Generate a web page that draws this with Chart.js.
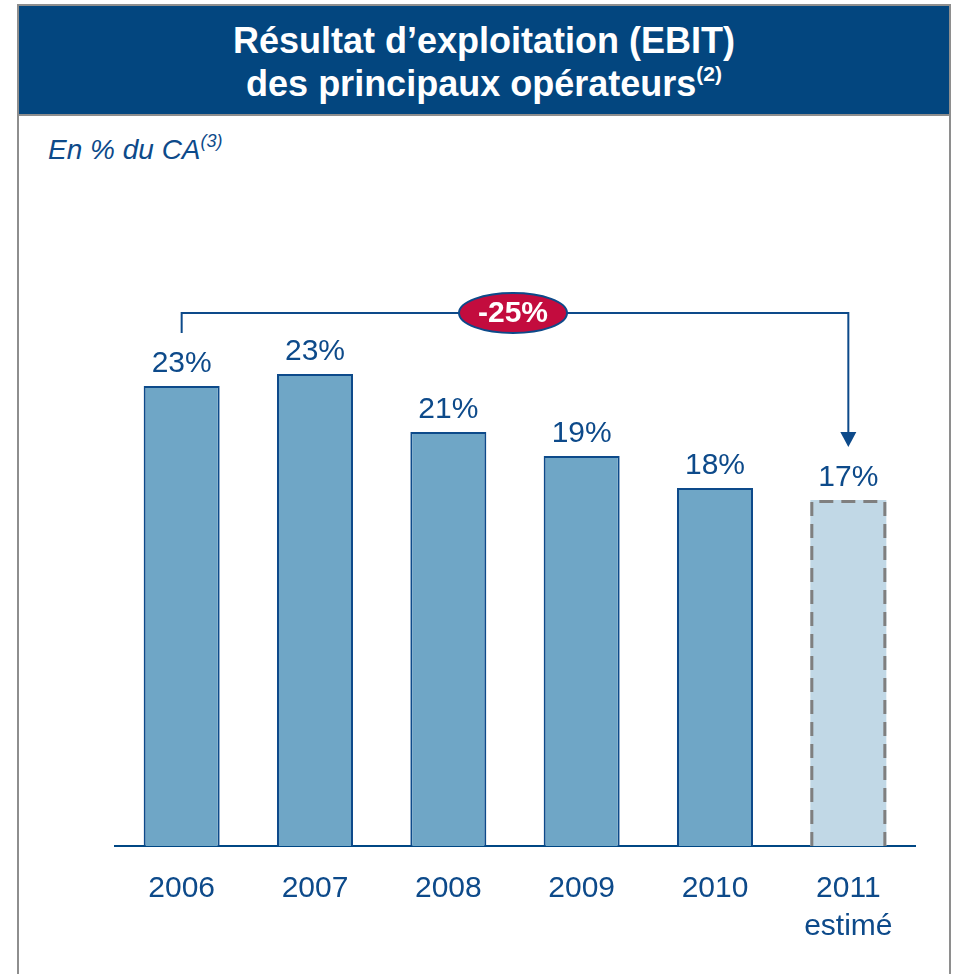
<!DOCTYPE html>
<html lang="fr">
<head>
<meta charset="utf-8">
<script src="https://cdn.jsdelivr.net/npm/chart.js@4/dist/chart.umd.min.js"></script>
<style>
  html, body { margin: 0; padding: 0; background: #fff; }
  body { width: 953px; height: 974px; position: relative; overflow: hidden; font-family: "Liberation Sans", Arial, sans-serif; }
  #frame { position: absolute; left: 17px; top: 4px; width: 930px; height: 990px; border: 2px solid #8e8e8e; }
  #header {
    position: absolute; left: 19px; top: 6px; width: 930px; height: 110px;
    background: #03467f; border-bottom: 2px solid #8e8e8e;
    color: #fff; font-weight: bold; font-size: 36px; line-height: 43px; text-align: center;
    display: flex; flex-direction: column; justify-content: center; padding-top: 3px; box-sizing: border-box;
  }
  #header sup { font-size: 21px; line-height: 0; vertical-align: 15px; }
  #subtitle { position: absolute; left: 48px; top: 134px; color: #0d4a8a; font-style: italic; font-size: 28px; }
  #subtitle sup { font-size: 18px; line-height: 0; vertical-align: 12px; }
  #chart { position: absolute; left: 0; top: 0; }
</style>
</head>
<body>
<div id="frame"></div>
<div id="header">
  <div>Résultat d’exploitation (EBIT)</div>
  <div>des principaux opérateurs<sup>(2)</sup></div>
</div>
<div id="subtitle">En % du CA<sup>(3)</sup></div>
<canvas id="chart" width="953" height="974"></canvas>
<script>
// data
const years = [["2006"], ["2007"], ["2008"], ["2009"], ["2010"], ["2011", "estimé"]];
const ebitMargin = [23.0, 23.6, 20.7, 19.5, 17.9, 17.3];
const valueLabels = ["23%", "23%", "21%", "19%", "18%", "17%"];
const changeLabel = "-25%";
const estimatedIndex = 5;

const navy = "#0d4a8a";
const barFill = "#6fa6c6";
const estFill = "#c1d8e6";

// value labels above bars + dashed outline for the estimate
const labelsPlugin = {
  id: "valueLabels",
  afterDatasetsDraw(chart) {
    const ctx = chart.ctx;
    const meta = chart.getDatasetMeta(0);
    ctx.save();
    ctx.font = '30px "Liberation Sans", Arial, sans-serif';
    ctx.fillStyle = navy;
    ctx.textAlign = "center";
    ctx.textBaseline = "alphabetic";
    meta.data.forEach((bar, i) => {
      ctx.fillText(valueLabels[i], bar.x, bar.y - 14);
    });

    // dashed border on estimated bar
    const est = meta.data[estimatedIndex];
    const half = est.width / 2;
    ctx.strokeStyle = "#7f7f7f";
    ctx.lineWidth = 3;
    ctx.setLineDash([14, 8]);
    ctx.beginPath();
    ctx.moveTo(est.x - half + 1.5, est.base);
    ctx.lineTo(est.x - half + 1.5, est.y + 1.5);
    ctx.lineTo(est.x + half - 1.5, est.y + 1.5);
    ctx.lineTo(est.x + half - 1.5, est.base);
    ctx.stroke();
    ctx.restore();
  }
};

// bracket with arrow and -25% badge
const bracketPlugin = {
  id: "bracket",
  afterDraw(chart) {
    const ctx = chart.ctx;
    const x = chart.scales.x, y = chart.scales.y;
    const x0 = x.getPixelForValue(0);
    const x1 = x.getPixelForValue(estimatedIndex);
    const yTop = y.getPixelForValue(26.65);
    const yLeft = y.getPixelForValue(25.65);
    const yTip = y.getPixelForValue(19.95);
    ctx.save();
    ctx.strokeStyle = navy;
    ctx.fillStyle = navy;
    ctx.lineWidth = 2;
    ctx.beginPath();
    ctx.moveTo(x0, yLeft);
    ctx.lineTo(x0, yTop);
    ctx.lineTo(x1, yTop);
    ctx.lineTo(x1, yTip - 14);
    ctx.stroke();
    ctx.beginPath();
    ctx.moveTo(x1 - 8, yTip - 15);
    ctx.lineTo(x1 + 8, yTip - 15);
    ctx.lineTo(x1, yTip);
    ctx.closePath();
    ctx.fill();

    const cx = (x0 + x1) / 2 - 2;
    ctx.beginPath();
    ctx.ellipse(cx, yTop, 54, 20, 0, 0, Math.PI * 2);
    ctx.fillStyle = "#c30c3e";
    ctx.fill();
    ctx.lineWidth = 2;
    ctx.stroke();
    ctx.fillStyle = "#fff";
    ctx.font = 'bold 30px "Liberation Sans", Arial, sans-serif';
    ctx.textAlign = "center";
    ctx.textBaseline = "middle";
    ctx.fillText(changeLabel, cx, yTop + 1);
    ctx.restore();
  }
};

new Chart(document.getElementById("chart"), {
  type: "bar",
  data: {
    labels: years,
    datasets: [{
      data: ebitMargin,
      backgroundColor: ebitMargin.map((v, i) => i === estimatedIndex ? estFill : barFill),
      borderColor: navy,
      borderWidth: ebitMargin.map((v, i) => i === estimatedIndex ? 0 : 2),
      barPercentage: 0.57,
      categoryPercentage: 1
    }]
  },
  options: {
    responsive: false,
    animation: false,
    devicePixelRatio: 1,
    layout: { padding: { left: 115, right: 38, top: 246, bottom: 0 } },
    plugins: { legend: { display: false }, tooltip: { enabled: false } },
    scales: {
      y: { display: false, min: 0, max: 30 },
      x: {
        grid: { display: false, drawTicks: false },
        border: { display: true, color: "#004784", width: 2 },
        ticks: {
          color: navy,
          padding: 24,
          font: { family: '"Liberation Sans", Arial, sans-serif', size: 30, lineHeight: 1.25 }
        },
        afterFit(scale) { scale.height = 128; }
      }
    }
  },
  plugins: [labelsPlugin, bracketPlugin]
});
</script>
</body>
</html>
